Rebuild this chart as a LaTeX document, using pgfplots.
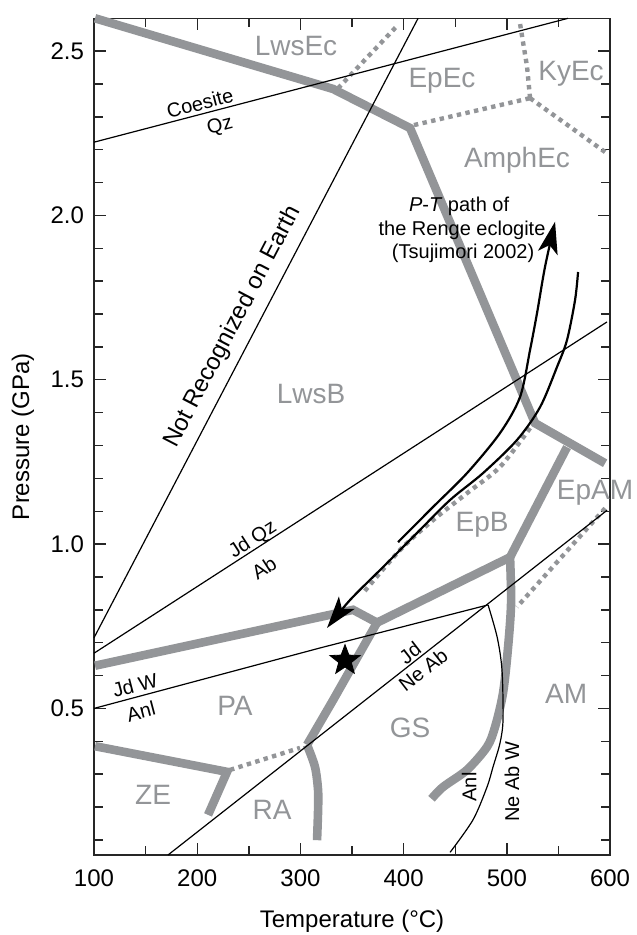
\documentclass[border=0pt]{standalone}
\usepackage{fontspec}
\setmainfont{Liberation Sans}
\usepackage{pgfplots}
\pgfplotsset{compat=1.18}
\usetikzlibrary{arrows.meta}
\definecolor{pgray}{RGB}{147,149,152}
\pgfdeclareplotmark{fivestar}{%
  \pgfpathmoveto{\pgfpointpolar{90}{\pgfplotmarksize}}%
  \pgfpathlineto{\pgfpointpolar{126}{0.42\pgfplotmarksize}}%
  \pgfpathlineto{\pgfpointpolar{162}{\pgfplotmarksize}}%
  \pgfpathlineto{\pgfpointpolar{198}{0.42\pgfplotmarksize}}%
  \pgfpathlineto{\pgfpointpolar{234}{\pgfplotmarksize}}%
  \pgfpathlineto{\pgfpointpolar{270}{0.42\pgfplotmarksize}}%
  \pgfpathlineto{\pgfpointpolar{306}{\pgfplotmarksize}}%
  \pgfpathlineto{\pgfpointpolar{342}{0.42\pgfplotmarksize}}%
  \pgfpathlineto{\pgfpointpolar{18}{\pgfplotmarksize}}%
  \pgfpathlineto{\pgfpointpolar{54}{0.42\pgfplotmarksize}}%
  \pgfpathclose
  \pgfusepathqfillstroke}
\begin{document}
\begin{tikzpicture}
\begin{axis}[
  name=ax, scale only axis, width=258pt, height=418.3pt,
  xmin=100, xmax=600, ymin=0.054, ymax=2.6,
  clip=false,
  xtick={100,200,300,400,500,600},
  xticklabels={100,200,300,400,500,600},
  minor xtick={150,250,350,450,550},
  ytick={0.5,1,1.5,2,2.5},
  yticklabels={0.5,1.0,1.5,2.0,2.5},
  minor ytick={0.1,0.2,0.3,0.4,0.6,0.7,0.8,0.9,1.1,1.2,1.3,1.4,1.6,1.7,1.8,1.9,2.1,2.2,2.3,2.4},
  tick align=inside,
  major tick length=6pt, minor tick length=4.5pt,
  axis line style={line width=0.7pt, black!85},
  tick style={line width=0.7pt, black!85},
  ticklabel style={font=\fontsize{12}{14}\selectfont},
  xticklabel style={yshift=-4pt},
  yticklabel style={xshift=-1.5pt},
  label style={font=\fontsize{12}{14}\selectfont},
  xlabel={Temperature (°C)},
  ylabel={Pressure (GPa)},
  xlabel style={at={(axis description cs:0.5,-0.079)}, anchor=center},
  ylabel style={at={(axis description cs:-0.1376,0.5)}, anchor=center},
  gthick/.style={pgray, line width=4.3pt, line join=miter},
  gdot/.style={pgray, line width=2.2pt, dash pattern=on 2.2pt off 2.2pt},
  bthin/.style={black, line width=0.6pt},
]
% ---- gray phase boundaries (thick)
\addplot[gthick] coordinates {(101,2.60) (331.6,2.385) (406.2,2.266) (527.3,1.368) (595.2,1.246)};
\addplot[gthick] coordinates {(558.3,1.295) (503.1,0.960)};
\addplot[gthick, smooth] coordinates {(503.1,0.960) (504.1,0.821) (501.2,0.687) (496.3,0.547) (488.6,0.444) (480.8,0.383) (461.4,0.313) (438.2,0.261) (427,0.225)};
\addplot[gthick] coordinates {(101,0.63) (351.0,0.800) (374.2,0.761) (503.1,0.960)};
\addplot[gthick] coordinates {(374.2,0.761) (331.6,0.525) (306.4,0.389)};
\addplot[gthick, smooth] coordinates {(306.4,0.389) (314.1,0.322) (317.1,0.251) (317.1,0.191) (316.1,0.099)};
\addplot[gthick] coordinates {(101,0.385) (228.9,0.307) (210.5,0.176)};
% ---- gray dotted boundaries
\addplot[gdot] coordinates {(336.4,2.387) (394.6,2.58)};
\addplot[gdot] coordinates {(410,2.275) (522.5,2.357)};
\addplot[gdot] coordinates {(522.5,2.357) (519.6,2.452) (512.8,2.583)};
\addplot[gdot] coordinates {(522.5,2.357) (595.2,2.193)};
\addplot[gdot, smooth] coordinates {(522.5,1.353) (493.4,1.235) (461.4,1.155) (428.5,1.073) (396.5,0.982) (360.7,0.851)};
\addplot[gdot] coordinates {(595.2,1.109) (509.9,0.809)};
\addplot[gdot] coordinates {(231.8,0.313) (299.6,0.380)};
% ---- black reaction lines (thin)
\addplot[bthin] coordinates {(100,2.223) (559.3,2.60)};
\addplot[bthin] coordinates {(100,0.715) (414,2.60)};
\addplot[bthin] coordinates {(100,0.668) (597,1.676)};
\addplot[bthin] coordinates {(100,0.50) (319,0.684) (481.8,0.815)};
\addplot[bthin] coordinates {(171.7,0.054) (597.1,1.103)};
\addplot[bthin, smooth] coordinates {(481.8,0.815) (490.6,0.717) (495.3,0.617) (496.3,0.466) (493.4,0.395) (486.6,0.322) (480.8,0.261) (467.2,0.161) (445.0,0.062)};
% ---- P-T path arrows
\addplot[black, line width=1.1pt, smooth, arrows={-Stealth[length=16pt, width=10pt, inset=4pt]}] coordinates {(394.6,1.006) (428.5,1.113) (461.4,1.216) (493.4,1.338) (512.8,1.448) (522.5,1.591) (529.3,1.704) (537.0,1.844) (546.7,1.981)};
\addplot[black, line width=1.1pt, smooth, arrows={-Stealth[length=16pt, width=10pt, inset=4pt]}] coordinates {(569.0,1.828) (566.1,1.743) (558.3,1.621) (548.6,1.539) (532.2,1.417) (509.9,1.317) (476.9,1.216) (444.9,1.134) (413.0,1.034) (380.0,0.930) (348.1,0.830) (325.8,0.745)};
% ---- star (Renge eclogite)
\addplot[only marks, mark=fivestar, mark size=7.9pt, mark options={fill=black, draw=black}] coordinates {(343.2,0.646)};
% ---- gray region labels
\begin{scope}[every node/.style={text=pgray, font=\fontsize{14}{16}\selectfont, anchor=base, inner sep=0pt}]
\node at (axis cs:295.7,2.488) {LwsEc};
\node at (axis cs:437.2,2.388) {EpEc};
\node at (axis cs:562.2,2.412) {KyEc};
\node at (axis cs:509.9,2.147) {AmphEc};
\node at (axis cs:310.3,1.429) {LwsB};
\node at (axis cs:476.0,1.037) {EpB};
\node at (axis cs:585.5,1.137) {EpAM};
\node at (axis cs:236.6,0.477) {PA};
\node at (axis cs:157.2,0.209) {ZE};
\node at (axis cs:272.5,0.163) {RA};
\node at (axis cs:406.2,0.410) {GS};
\node at (axis cs:557.4,0.516) {AM};
\end{scope}
% ---- black line labels
\begin{scope}[every node/.style={font=\fontsize{10}{12}\selectfont, inner sep=0pt}]
\node[rotate=14.6] at (axis cs:202.7,2.342) {Coesite};
\node[rotate=14.6] at (axis cs:222.1,2.270) {Qz};
\node[rotate=32.9] at (axis cs:254.1,1.012) {Jd Qz};
\node[rotate=32.9] at (axis cs:264.7,0.927) {Ab};
\node[rotate=14.8] at (axis cs:139.7,0.571) {Jd W};
\node[rotate=14.8] at (axis cs:145.5,0.491) {Anl};
\node[rotate=37.9] at (axis cs:406.2,0.669) {Jd};
\node[rotate=37.9] at (axis cs:418.8,0.617) {Ne Ab};
\node[rotate=90] at (axis cs:463.4,0.261) {Anl};
\node[rotate=90] at (axis cs:505.0,0.277) {Ne Ab W};
\node[anchor=base] at (axis cs:453.7,2.011) {\textit{P}-\textit{T} path of};
\node[anchor=base] at (axis cs:456.6,1.940) {the Renge eclogite};
\node[anchor=base] at (axis cs:457.6,1.869) {(Tsujimori 2002)};
\end{scope}
\node[rotate=62.5, anchor=south, inner sep=5pt, font=\fontsize{12}{14}\selectfont] at (axis cs:253.1,1.630) {Not Recognized on Earth};
\end{axis}
\pgfresetboundingbox
\path[use as bounding box] ([xshift=-47pt,yshift=-40pt]ax.south west) rectangle ([xshift=13pt,yshift=9.15pt]ax.north east);
\end{tikzpicture}
\end{document}
